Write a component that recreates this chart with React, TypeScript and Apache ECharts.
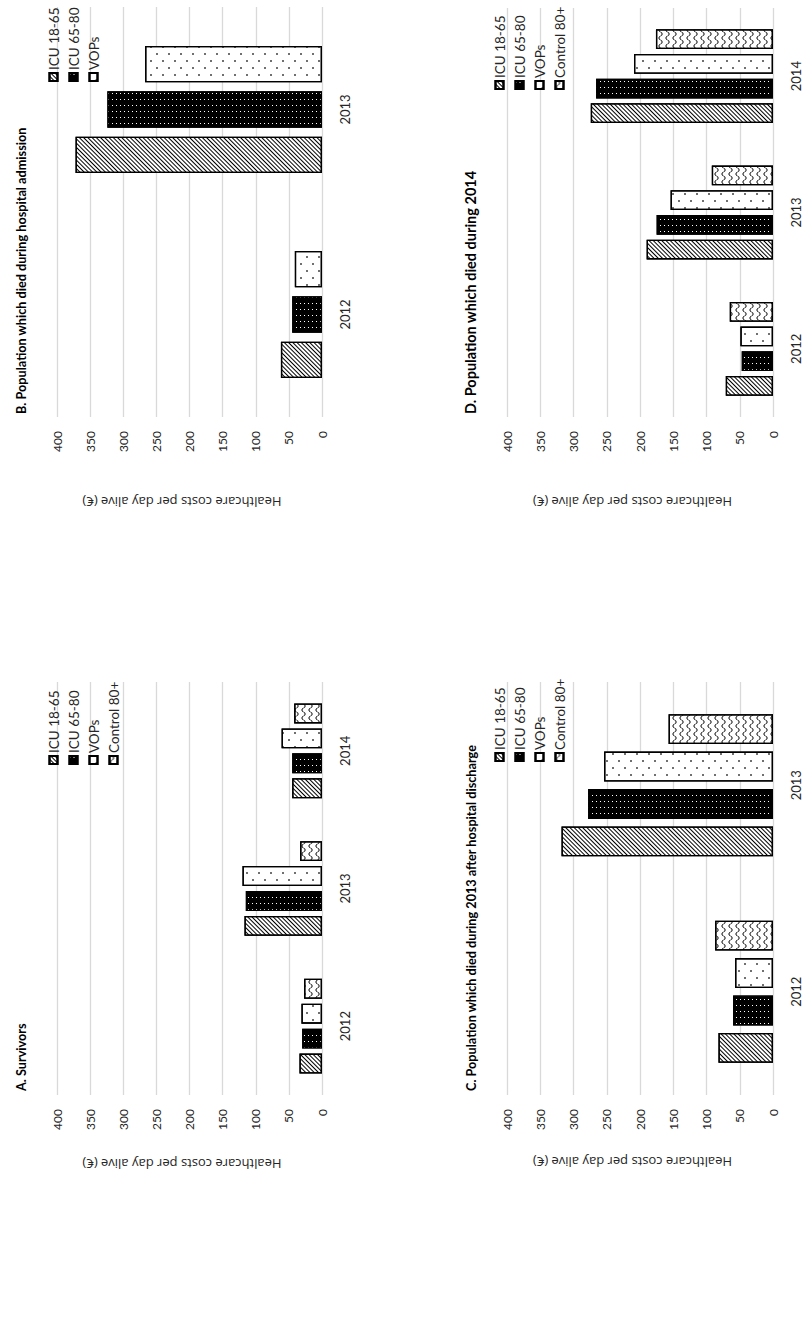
import React, { useEffect, useRef } from "react";
import * as echarts from "echarts";

// Groups compared in every panel
const groupNames = ["ICU 18-65", "ICU 65-80", "VOPs", "Control 80+"];

// Category labels (years)
const yearsA = ["2012", "2013", "2014"];
const yearsB = ["2012", "2013"];
const yearsC = ["2012", "2013"];
const yearsD = ["2012", "2013", "2014"];

// Value axis ticks
const valueTicks = [0, 50, 100, 150, 200, 250, 300, 350, 400];

// A. Survivors
const aIcu1865 = [34, 117, 45];
const aIcu6580 = [30, 115, 45];
const aVops = [31, 120, 61];
const aControl80 = [27, 33, 42];

// B. Population which died during hospital admission
const bIcu1865 = [62, 372];
const bIcu6580 = [45, 324];
const bVops = [41, 267];

// C. Population which died during 2013 after hospital discharge
const cIcu1865 = [82, 318];
const cIcu6580 = [60, 278];
const cVops = [57, 254];
const cControl80 = [87, 157];

// D. Population which died during 2014
const dIcu1865 = [71, 190, 274];
const dIcu6580 = [47, 175, 266];
const dVops = [49, 154, 209];
const dControl80 = [65, 92, 176];

const panelTitles = [
  "A. Survivors",
  "B. Population which died during hospital admission",
  "C. Population which died during 2013 after hospital discharge",
  "D. Population which died during 2014",
];
const panelYears = [yearsA, yearsB, yearsC, yearsD];
const panelValues = [
  [aIcu1865, aIcu6580, aVops, aControl80],
  [bIcu1865, bIcu6580, bVops],
  [cIcu1865, cIcu6580, cVops, cControl80],
  [dIcu1865, dIcu6580, dVops, dControl80],
];

// Layout of the four panels on the (unrotated) 1336 x 806 canvas
const layout = [
  { grid: { left: 241, top: 57, width: 413, height: 265 }, title: { left: 245, top: 14, size: 12.7 }, legend: { left: 571, top: 46 }, nameGap: 62 },
  { grid: { left: 919, top: 57, width: 410, height: 265 }, title: { left: 922, top: 14, size: 12.7 }, legend: { left: 1254, top: 46 }, nameGap: 78 },
  { grid: { left: 241, top: 507, width: 413, height: 266 }, title: { left: 245, top: 464, size: 12.7 }, legend: { left: 574, top: 492 }, nameGap: 60 },
  { grid: { left: 919, top: 507, width: 409, height: 266 }, title: { left: 922, top: 463, size: 14.5 }, legend: { left: 1246, top: 492 }, nameGap: 78 },
];

const FONT = "Lato";

// Fill patterns for each group
const groupStyles = [
  {
    color: "#ffffff",
    decal: {
      symbol: "rect",
      symbolSize: 1,
      color: "#000000",
      backgroundColor: "#ffffff",
      dashArrayX: [1, 0],
      dashArrayY: [1, 2],
      rotation: -Math.PI / 4,
    },
  },
  {
    color: "#000000",
    decal: {
      symbol: "rect",
      symbolSize: 1,
      color: "#ffffff",
      backgroundColor: "#000000",
      dashArrayX: [1, 5],
      dashArrayY: [1, 3],
      rotation: 0,
    },
  },
  {
    color: "#ffffff",
    decal: {
      symbol: "rect",
      symbolSize: 0.75,
      color: "#000000",
      backgroundColor: "#ffffff",
      dashArrayX: [[2, 12], [0, 7, 2, 5]],
      dashArrayY: [2, 4],
      rotation: 0,
    },
  },
  {
    color: "#ffffff",
    decal: {
      symbol:
        "path://M0,4 C2,0 6,0 8,4 C10,8 14,8 16,4 L16,6.2 C14,10.2 10,10.2 8,6.2 C6,2.2 2,2.2 0,6.2 Z",
      symbolSize: 1,
      color: "#000000",
      backgroundColor: "#ffffff",
      dashArrayX: [8, 0],
      dashArrayY: [5, 2],
      rotation: 0,
    },
  },
];

function barGapFor(n: number) {
  const gw = 2.15;
  return Math.round((gw / (n + (n - 1) * 0.25 + gw)) * 1000) / 10 + "%";
}

export default function App() {
  const ref = useRef<HTMLDivElement>(null);

  useEffect(() => {
    if (!ref.current) return;
    const chart = echarts.init(ref.current, undefined, { renderer: "svg" });

    const grid: any[] = [];
    const xAxis: any[] = [];
    const yAxis: any[] = [];
    const title: any[] = [];
    const legend: any[] = [];
    const series: any[] = [];

    panelTitles.forEach((t, p) => {
      const L = layout[p];
      const nSeries = panelValues[p].length;
      grid.push({ ...L.grid, containLabel: false });
      title.push({
        text: t,
        left: L.title.left,
        top: L.title.top,
        padding: 0,
        textStyle: { fontFamily: FONT, fontSize: L.title.size, fontWeight: "bold", color: "#000" },
      });
      xAxis.push({
        type: "category",
        gridIndex: p,
        data: panelYears[p],
        axisLine: { show: false },
        axisTick: { show: false },
        axisLabel: { margin: 16, fontFamily: FONT, fontSize: 13, color: "#262626" },
      });
      yAxis.push({
        type: "value",
        gridIndex: p,
        min: valueTicks[0],
        max: valueTicks[valueTicks.length - 1],
        interval: valueTicks[1] - valueTicks[0],
        name: "Healthcare costs per day alive (€)",
        nameLocation: "middle",
        nameGap: L.nameGap,
        nameTextStyle: {
          fontFamily: "Open Sans",
          fontSize: 13,
          color: "#262626",
          padding: [0, 0, 0, 15],
        },
        axisLine: { show: false },
        axisTick: { show: false },
        axisLabel: { margin: 14, fontFamily: FONT, fontSize: 12, color: "#262626" },
        splitLine: { lineStyle: { color: "#d9d9d9", width: 1.3 } },
      });
      legend.push({
        orient: "vertical",
        left: L.legend.left,
        top: L.legend.top,
        padding: 0,
        itemGap: 5,
        itemWidth: 8,
        itemHeight: 8,
        icon: "rect",
        data: groupNames.slice(0, nSeries),
        selectedMode: false,
        textStyle: { fontFamily: FONT, fontSize: 13.5, color: "#262626", padding: [0, 0, 0, -2], lineHeight: 15 },
      });
      panelValues[p].forEach((vals, s) => {
        const st = groupStyles[s];
        series.push({
          type: "bar",
          name: groupNames[s],
          xAxisIndex: p,
          yAxisIndex: p,
          data: vals,
          barGap: "25%",
          barCategoryGap: barGapFor(nSeries),
          itemStyle: {
            color: st.color,
            borderColor: "#000",
            borderWidth: 1.3,
            decal: st.decal,
          },
        });
      });
    });

    chart.setOption({
      animation: false,
      backgroundColor: "#ffffff",
      aria: { enabled: true, decal: { show: true } },
      textStyle: { fontFamily: FONT },
      title,
      legend,
      grid,
      xAxis,
      yAxis,
      series,
    });

    return () => chart.dispose();
  }, []);

  return (
    <div
      style={{
        position: "fixed",
        left: 0,
        top: 0,
        width: 806,
        height: 1336,
        overflow: "hidden",
        background: "#fff",
      }}
    >
      <div
        ref={ref}
        style={{
          position: "absolute",
          left: 0,
          top: 0,
          width: 1336,
          height: 806,
          transformOrigin: "0 0",
          transform: "translate(0px, 1336px) rotate(-90deg)",
        }}
      />
    </div>
  );
}
